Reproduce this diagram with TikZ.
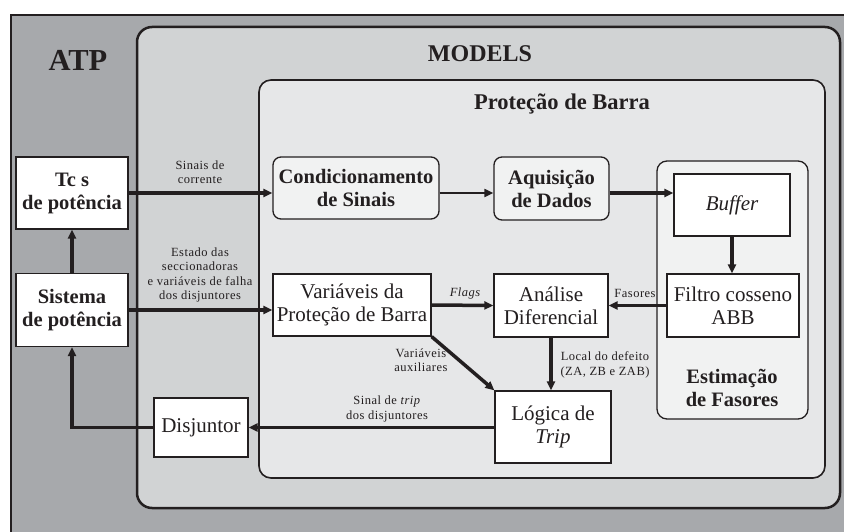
\documentclass[tikz,border=0pt]{standalone}
\usepackage{fontspec}
\setmainfont{Liberation Serif}
\newfontfamily\lblfont[LetterSpace=4]{Liberation Serif}
\usetikzlibrary{                          % TikZ libraries
                arrows.meta,              % .
                calc}
\definecolor{atpgray}{RGB}{167,169,172}
\definecolor{modelsgray}{RGB}{209,211,212}
\definecolor{barragray}{RGB}{230,231,232}
\definecolor{boxfill}{RGB}{241,242,242}
\definecolor{ink}{RGB}{35,31,32}

\begin{document}
\begin{tikzpicture}[x=1pt,y=-1pt,
                    ]
                % define styles
\tikzset{blk/.style={draw=ink,
                       line width=1.3pt,
                       fill=white,
                       inner sep=0,
                       align=center,
                       text=ink,
                       font=\fontsize{21}{23}\selectfont,
                       },
         rblk/.style={blk,
                       rounded corners=8pt,
                       fill=boxfill,
                       font=\fontsize{20.5}{23}\selectfont\bfseries,
                       },
         bblk/.style={blk,
                       font=\fontsize{20.5}{23}\selectfont\bfseries,
                       },
         lbl/.style={align=center,
                       text=ink,
                       inner sep=0,
                       font=\lblfont\fontsize{12.5}{14.5}\selectfont,
                       },
         flow/.style={draw=ink,
                       line width=3.5pt,
                       -{Triangle[length=9pt,width=8pt]},
                       },
         thinflow/.style={flow,
                       line width=2pt,
                       }
}

\useasboundingbox (0,0) rectangle (844,532);
\clip (0,0) rectangle (844,532);

% containers
\draw[draw=ink,line width=1.2pt,fill=atpgray] (11,15) rectangle (870,560);
\draw[draw=ink,line width=2.5pt,fill=modelsgray,rounded corners=15pt] (137,27) rectangle (840,508);
\draw[draw=ink,line width=1.6pt,fill=barragray,rounded corners=12pt] (259,80) rectangle (825,478);
\draw[draw=ink,line width=1.3pt,fill=boxfill,rounded corners=10pt] (657,161) rectangle (808,419);

% titles
\node[text=ink,font=\fontsize{30.5}{30}\selectfont\bfseries] (atp)    at (78,60)   {ATP};
\node[text=ink,font=\fontsize{24}{24}\selectfont\bfseries] (models) at (480,54)  {MODELS};
\node[text=ink,font=\fontsize{22.5}{22}\selectfont\bfseries] (barra)  at (562,104) {Proteção de Barra};
\node[text=ink,align=center,font=\fontsize{20.5}{23}\selectfont\bfseries] (estim) at (732,388) {Estimação\\de Fasores};

% nodes
\node[bblk,minimum width=112pt,minimum height=72pt] (tc)     at (72,193)    {Tc s\\de potência};
\node[bblk,minimum width=112pt,minimum height=73pt] (sis)    at (72,310)    {Sistema\\de potência};
\node[blk, minimum width=94pt, minimum height=59pt] (disj)   at (201,427.5) {Disjuntor};
\node[rblk,minimum width=166pt,minimum height=62pt] (cond)   at (356,188)   {Condicionamento\\de Sinais};
\node[rblk,minimum width=115pt,minimum height=63pt] (aquis)  at (551.5,188.5) {Aquisição\\de Dados};
\node[blk, minimum width=116pt,minimum height=62pt] (buffer) at (732,205)   {\itshape Buffer};
\node[blk, minimum width=132pt,minimum height=63pt] (filtro) at (733,305.5) {Filtro cosseno\\ABB};
\node[blk, minimum width=158pt,minimum height=62pt] (vars)   at (352,305)   {Variáveis da\\Proteção de Barra};
\node[blk, minimum width=114pt,minimum height=63pt] (anal)   at (551,305.5) {Análise\\Diferencial};
\node[blk, minimum width=116pt,minimum height=72pt] (logic)  at (553,427)   {Lógica de\\\itshape Trip};

% connectors
\draw[flow]     (tc.east) -- (tc.east -| cond.west);
\draw[thinflow] (cond.east |- tc.east) -- (aquis.west |- tc.east);
\draw[flow]     (aquis.east |- tc.east) -- (buffer.west |- tc.east);
\draw[flow]     (buffer.south) -- (buffer.south |- filtro.north);
\draw[flow]     (filtro.west) -- (anal.east);
\draw[flow]     (sis.east) -- (sis.east -| vars.west);
\draw[flow]     (vars.east) -- (anal.west);
\draw[flow]     (anal.south) -- (anal.south |- logic.north);
\draw[flow]     (vars.south east) -- (logic.north west);
\draw[flow]     (logic.west |- disj.east) -- (disj.east);
\draw[flow]     (disj.west) -| (sis.south);
\draw[flow]     (sis.north) -- (tc.south);

% labels
\node[lbl] (l-sinais)  at (200,172) {Sinais de\\corrente};
\node[lbl] (l-estado)  at (200,275) {Estado das\\seccionadoras\\e variáveis de falha\\dos disjuntores};
\node[lbl] (l-flags)   at (465,293) {\itshape Flags};
\node[lbl] (l-fasores) at (635,293) {Fasores};
\node[lbl] (l-local)   at (605,365) {Local do defeito\\(ZA, ZB e ZAB)};
\node[lbl] (l-aux)     at (421,360) {Variáveis\\auxiliares};
\node[lbl] (l-trip)    at (387,409) {Sinal de \textit{trip}\\dos disjuntores};

\end{tikzpicture}
\end{document}
